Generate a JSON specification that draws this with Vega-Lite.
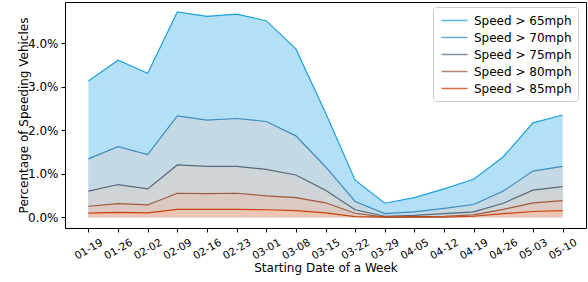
{
  "$schema": "https://vega.github.io/schema/vega-lite/v6.json",
  "width": 521,
  "height": 226,
  "autosize": {"type": "none"},
  "padding": {"left": 65, "top": 2, "right": 2, "bottom": 54},
  "config": {
    "font": "DejaVu Sans",
    "view": {"stroke": "black", "strokeWidth": 1},
    "axis": {"grid": false, "domain": false, "tickColor": "black", "tickSize": 4, "labelColor": "black", "titleColor": "black", "labelFont": "DejaVu Sans", "titleFont": "DejaVu Sans", "titleFontWeight": "normal", "titleFontSize": 12}
  },
  "data": {
    "values": [
      {"week": "01-19", "s65": 3.13, "s70": 1.34, "s75": 0.60, "s80": 0.25, "s85": 0.09},
      {"week": "01-26", "s65": 3.61, "s70": 1.62, "s75": 0.75, "s80": 0.31, "s85": 0.11},
      {"week": "02-02", "s65": 3.31, "s70": 1.44, "s75": 0.65, "s80": 0.28, "s85": 0.10},
      {"week": "02-09", "s65": 4.72, "s70": 2.33, "s75": 1.20, "s80": 0.55, "s85": 0.18},
      {"week": "02-16", "s65": 4.62, "s70": 2.23, "s75": 1.17, "s80": 0.54, "s85": 0.18},
      {"week": "02-23", "s65": 4.67, "s70": 2.27, "s75": 1.17, "s80": 0.55, "s85": 0.18},
      {"week": "03-01", "s65": 4.52, "s70": 2.20, "s75": 1.10, "s80": 0.49, "s85": 0.17},
      {"week": "03-08", "s65": 3.87, "s70": 1.87, "s75": 0.97, "s80": 0.45, "s85": 0.15},
      {"week": "03-15", "s65": 2.40, "s70": 1.16, "s75": 0.62, "s80": 0.33, "s85": 0.10},
      {"week": "03-22", "s65": 0.85, "s70": 0.36, "s75": 0.17, "s80": 0.09, "s85": 0.01},
      {"week": "03-29", "s65": 0.32, "s70": 0.08, "s75": 0.02, "s80": 0.00, "s85": 0.00},
      {"week": "04-05", "s65": 0.45, "s70": 0.12, "s75": 0.04, "s80": 0.01, "s85": 0.00},
      {"week": "04-12", "s65": 0.65, "s70": 0.20, "s75": 0.08, "s80": 0.02, "s85": 0.00},
      {"week": "04-19", "s65": 0.87, "s70": 0.29, "s75": 0.12, "s80": 0.05, "s85": 0.02},
      {"week": "04-26", "s65": 1.39, "s70": 0.60, "s75": 0.32, "s80": 0.18, "s85": 0.08},
      {"week": "05-03", "s65": 2.17, "s70": 1.06, "s75": 0.62, "s80": 0.33, "s85": 0.13},
      {"week": "05-10", "s65": 2.35, "s70": 1.17, "s75": 0.70, "s80": 0.38, "s85": 0.15}
    ]
  },
  "encoding": {
    "x": {
      "field": "week", "type": "ordinal", "sort": null,
      "scale": {"type": "point", "padding": 0.79},
      "axis": {"title": "Starting Date of a Week", "labelAngle": -30, "labelAlign": "center", "labelBaseline": "middle", "labelPadding": 17, "labelFontSize": 10.5, "titlePadding": 1}
    }
  },
  "layer": [
    {"mark": {"type": "area", "color": "#b3e0f6", "opacity": 1}, "encoding": {"y": {"field": "s65", "type": "quantitative", "scale": {"domain": [-0.25, 4.95], "nice": false, "zero": false}, "axis": {"title": "Percentage of Speeding Vehicles", "values": [0, 1, 2, 3, 4], "labelExpr": "format(datum.value, '.1f') + '%'", "labelFontSize": 12, "labelPadding": 3, "titlePadding": -3}}, "y2": {"datum": 0}}},
    {"mark": {"type": "area", "color": "#c4d9e4", "opacity": 1}, "encoding": {"y": {"field": "s70", "type": "quantitative"}, "y2": {"datum": 0}}},
    {"mark": {"type": "area", "color": "#cfd4d7", "opacity": 1}, "encoding": {"y": {"field": "s75", "type": "quantitative"}, "y2": {"datum": 0}}},
    {"mark": {"type": "area", "color": "#dccac2", "opacity": 1}, "encoding": {"y": {"field": "s80", "type": "quantitative"}, "y2": {"datum": 0}}},
    {"mark": {"type": "area", "color": "#eec4b2", "opacity": 1}, "encoding": {"y": {"field": "s85", "type": "quantitative"}, "y2": {"datum": 0}}},
    {
      "transform": [
        {"fold": ["s65", "s70", "s75", "s80", "s85"], "as": ["key", "value"]},
        {"lookup": "key", "from": {"data": {"values": [
          {"key": "s65", "label": "Speed > 65mph"},
          {"key": "s70", "label": "Speed > 70mph"},
          {"key": "s75", "label": "Speed > 75mph"},
          {"key": "s80", "label": "Speed > 80mph"},
          {"key": "s85", "label": "Speed > 85mph"}
        ]}, "key": "key", "fields": ["label"]}}
      ],
      "mark": {"type": "line", "strokeWidth": 1.2},
      "encoding": {
        "y": {"field": "value", "type": "quantitative"},
        "color": {
          "field": "label", "type": "nominal",
          "scale": {"domain": ["Speed > 65mph", "Speed > 70mph", "Speed > 75mph", "Speed > 80mph", "Speed > 85mph"], "range": ["#1ba1e2", "#3b8cc0", "#56697a", "#9e5a3c", "#c8410e"]},
          "legend": {"title": null, "orient": "none", "legendX": 368, "legendY": 5, "symbolType": "M-2,0H2", "symbolSize": 169, "symbolOffset": 8, "symbolStrokeWidth": 1.5, "symbolOpacity": 0.75, "labelFontSize": 12, "labelFont": "DejaVu Sans", "labelColor": "black", "labelOffset": 12, "rowPadding": 3, "padding": 6, "strokeColor": "#cccccc", "fillColor": "white", "cornerRadius": 3, "labelLimit": 200}
        }
      }
    }
  ]
}
